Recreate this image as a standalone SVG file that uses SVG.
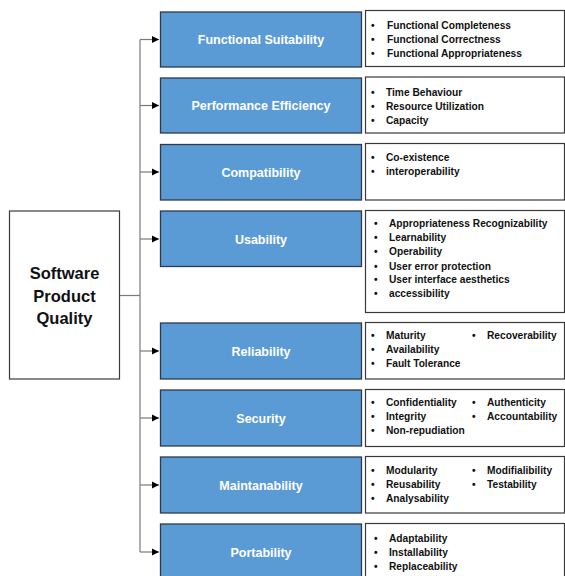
<svg xmlns="http://www.w3.org/2000/svg" width="565" height="576" viewBox="0 0 565 576">
<style>
.cat{fill:#5B9BD5;stroke:#2E3B4E;stroke-width:1.3}
.det{fill:#fff;stroke:#3a3a3a;stroke-width:1.2}
.root{fill:#fff;stroke:#3a3a3a;stroke-width:1.2}
.lbl{font-family:"Liberation Sans",Arial,sans-serif;font-weight:bold;font-size:12.5px;fill:#fff;text-anchor:middle}
.t{font-family:"Liberation Sans",Arial,sans-serif;font-weight:bold;font-size:10.2px;fill:#111}
.rt{font-family:"Liberation Sans",Arial,sans-serif;font-weight:bold;font-size:16.5px;fill:#111;text-anchor:middle}
.ln{fill:none;stroke:#7a7a7a;stroke-width:1.2}
</style>
<defs>
<marker id="ah" markerWidth="8" markerHeight="8" refX="7" refY="4" orient="auto" markerUnits="userSpaceOnUse">
<path d="M0,0.5 L7,4 L0,7.5 Z" fill="#000"/>
</marker>
</defs>
<rect width="565" height="576" fill="#fff"/>
<g id="connectors">
<path class="ln" d="M119,295.5 H140"/>
<path class="ln" d="M140,39.5 V552"/>
<path class="ln" d="M140,39.5 H159" marker-end="url(#ah)"/>
<path class="ln" d="M140,105.5 H159" marker-end="url(#ah)"/>
<path class="ln" d="M140,172 H159" marker-end="url(#ah)"/>
<path class="ln" d="M140,239 H159" marker-end="url(#ah)"/>
<path class="ln" d="M140,351 H159" marker-end="url(#ah)"/>
<path class="ln" d="M140,418 H159" marker-end="url(#ah)"/>
<path class="ln" d="M140,485 H159" marker-end="url(#ah)"/>
<path class="ln" d="M140,552 H159" marker-end="url(#ah)"/>
</g>
<g id="root">
<rect class="root" x="9.5" y="211" width="110" height="168"/>
<text class="rt" x="64.5" y="279">Software</text>
<text class="rt" x="64.5" y="302">Product</text>
<text class="rt" x="64.5" y="324">Quality</text>
</g>
<g id="functional-suitability">
<rect class="cat" x="160.5" y="12" width="201" height="55"/>
<text class="lbl" x="261" y="44">Functional Suitability</text>
<rect class="det" x="365.5" y="10.5" width="199" height="56"/>
<text class="t"><tspan x="371" y="29">•</tspan><tspan x="387" y="29">Functional Completeness</tspan><tspan x="371" y="43">•</tspan><tspan x="387" y="43">Functional Correctness</tspan><tspan x="371" y="57">•</tspan><tspan x="387" y="57">Functional Appropriateness</tspan></text>
</g>
<g id="performance-efficiency">
<rect class="cat" x="160.5" y="78" width="201" height="55"/>
<text class="lbl" x="261" y="110">Performance Efficiency</text>
<rect class="det" x="365.5" y="77" width="199" height="56"/>
<text class="t"><tspan x="371" y="96">•</tspan><tspan x="386" y="96">Time Behaviour</tspan><tspan x="371" y="110">•</tspan><tspan x="386" y="110">Resource Utilization</tspan><tspan x="371" y="124">•</tspan><tspan x="386" y="124">Capacity</tspan></text>
</g>
<g id="compatibility">
<rect class="cat" x="160.5" y="144.5" width="201" height="55.5"/>
<text class="lbl" x="261" y="176.5">Compatibility</text>
<rect class="det" x="365.5" y="143.5" width="199" height="56.5"/>
<text class="t"><tspan x="371" y="161">•</tspan><tspan x="386" y="161">Co-existence</tspan><tspan x="371" y="175">•</tspan><tspan x="386" y="175">interoperability</tspan></text>
</g>
<g id="usability">
<rect class="cat" x="160.5" y="211" width="201" height="55.5"/>
<text class="lbl" x="261" y="243.5">Usability</text>
<rect class="det" x="365.5" y="210.5" width="199" height="102"/>
<text class="t"><tspan x="374" y="227">•</tspan><tspan x="389" y="227">Appropriateness Recognizability</tspan><tspan x="374" y="241">•</tspan><tspan x="389" y="241">Learnability</tspan><tspan x="374" y="255">•</tspan><tspan x="389" y="255">Operability</tspan><tspan x="374" y="269.5">•</tspan><tspan x="389" y="269.5">User error protection</tspan><tspan x="374" y="283">•</tspan><tspan x="389" y="283">User interface aesthetics</tspan><tspan x="374" y="297">•</tspan><tspan x="389" y="297">accessibility</tspan></text>
</g>
<g id="reliability">
<rect class="cat" x="160.5" y="323" width="201" height="56"/>
<text class="lbl" x="261" y="355.5">Reliability</text>
<rect class="det" x="365.5" y="322.5" width="199" height="56.5"/>
<text class="t"><tspan x="371" y="338.5">•</tspan><tspan x="386" y="338.5">Maturity</tspan><tspan x="371" y="353">•</tspan><tspan x="386" y="353">Availability</tspan><tspan x="371" y="367">•</tspan><tspan x="386" y="367">Fault Tolerance</tspan><tspan x="472" y="338.5">•</tspan><tspan x="487" y="338.5">Recoverability</tspan></text>
</g>
<g id="security">
<rect class="cat" x="160.5" y="390" width="201" height="56"/>
<text class="lbl" x="261" y="422.5">Security</text>
<rect class="det" x="365.5" y="389.5" width="199" height="57"/>
<text class="t"><tspan x="371" y="406">•</tspan><tspan x="386" y="406">Confidentiality</tspan><tspan x="371" y="420">•</tspan><tspan x="386" y="420">Integrity</tspan><tspan x="371" y="434">•</tspan><tspan x="386" y="434">Non-repudiation</tspan><tspan x="472" y="406">•</tspan><tspan x="487" y="406">Authenticity</tspan><tspan x="472" y="420">•</tspan><tspan x="487" y="420">Accountability</tspan></text>
</g>
<g id="maintanability">
<rect class="cat" x="160.5" y="457" width="201" height="56"/>
<text class="lbl" x="261" y="489.5">Maintanability</text>
<rect class="det" x="365.5" y="456.5" width="199" height="56.5"/>
<text class="t"><tspan x="371" y="473.5">•</tspan><tspan x="386" y="473.5">Modularity</tspan><tspan x="371" y="487.5">•</tspan><tspan x="386" y="487.5">Reusability</tspan><tspan x="371" y="502">•</tspan><tspan x="386" y="502">Analysability</tspan><tspan x="472" y="473.5">•</tspan><tspan x="487" y="473.5">Modifialibility</tspan><tspan x="472" y="487.5">•</tspan><tspan x="487" y="487.5">Testability</tspan></text>
</g>
<g id="portability">
<rect class="cat" x="160.5" y="524" width="201" height="60"/>
<text class="lbl" x="261" y="556.5">Portability</text>
<rect class="det" x="365.5" y="523.5" width="199" height="60"/>
<text class="t"><tspan x="374" y="542">•</tspan><tspan x="389" y="542">Adaptability</tspan><tspan x="374" y="555.5">•</tspan><tspan x="389" y="555.5">Installability</tspan><tspan x="374" y="570">•</tspan><tspan x="389" y="570">Replaceability</tspan></text>
</g>
</svg>
